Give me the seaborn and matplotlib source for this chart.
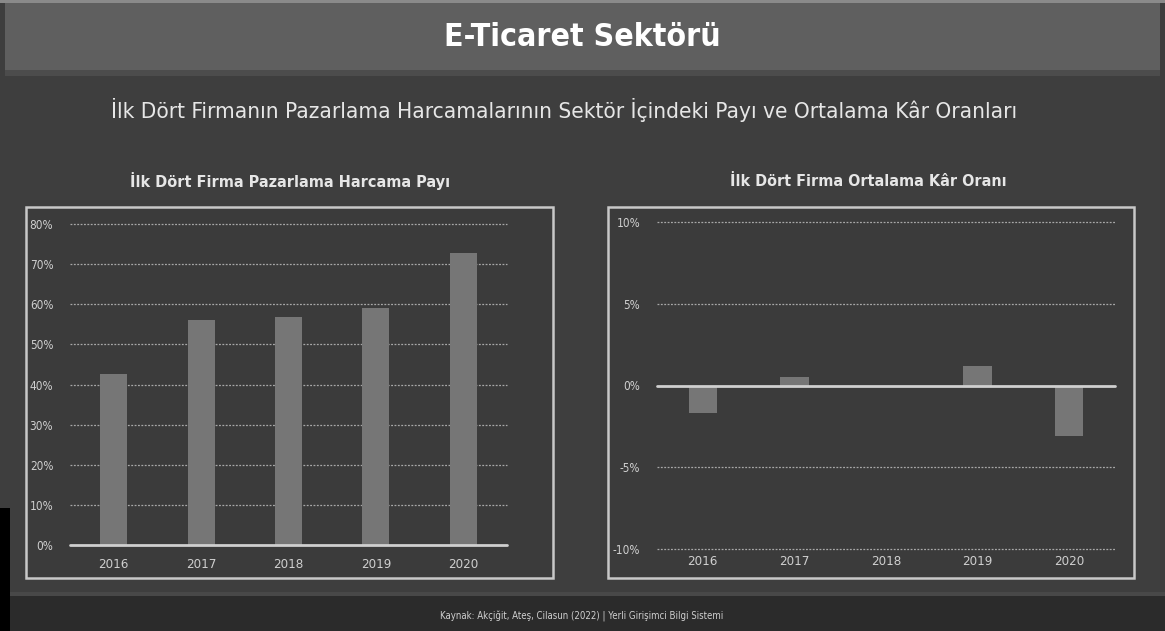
import matplotlib
matplotlib.use("Agg")
import matplotlib.pyplot as plt
import matplotlib.patches as mpatches
import seaborn as sns
import pandas as pd

# data
years = ["2016", "2017", "2018", "2019", "2020"]
pazarlama_payi = [42.6, 56.1, 56.9, 59.1, 72.7]   # % share of marketing spend
kar_orani = [-1.7, 0.5, 0.0, 1.2, -3.1]           # % average profit rate
left_ticks = [0, 10, 20, 30, 40, 50, 60, 70, 80]
right_ticks = [-10, -5, 0, 5, 10]

main_title = "E-Ticaret Sektörü"
sub_title = "İlk Dört Firmanın Pazarlama Harcamalarının Sektör İçindeki Payı ve Ortalama Kâr Oranları"
left_title = "İlk Dört Firma Pazarlama Harcama Payı"
right_title = "İlk Dört Firma Ortalama Kâr Oranı"
source = "Kaynak: Akçiğit, Ateş, Cilasun (2022) | Yerli Girişimci Bilgi Sistemi"

W, H = 1165, 631
BG = "#3e3e3e"
BAR = "#767676"
TXT = "#e6e6e6"
TICK = "#cfcfcf"

sns.set_theme(style="dark")
plt.rcParams["font.family"] = ["DejaVu Sans"]
plt.rcParams["font.stretch"] = "condensed"

fig = plt.figure(figsize=(W / 100, H / 100), dpi=100, facecolor=BG)
renderer = fig.canvas.get_renderer()


def box(x0, y0, x1, y1):  # pixel box (top-left origin) -> figure fractions
    return [x0 / W, 1 - y1 / H, (x1 - x0) / W, (y1 - y0) / H]


def rect(x0, y0, x1, y1, **kw):
    l, b, w, h = box(x0, y0, x1, y1)
    fig.patches.append(mpatches.Rectangle((l, b), w, h, transform=fig.transFigure,
                                          zorder=-1, **kw))


def fit_text(x, y, s, width_px, size, **kw):  # shrink/grow text to the reference width
    t = fig.text(x / W, 1 - y / H, s, ha="center", va="center", fontsize=size,
                 fontstretch="condensed", **kw)
    w = t.get_window_extent(renderer).width
    t.set_fontsize(size * width_px / w)
    return t


# header band, footer band
rect(0, 0, W, 3, facecolor="#8a8a8a", edgecolor="none")
rect(5, 3, 1160, 70, facecolor="#5f5f5f", edgecolor="none")
rect(5, 70, 1160, 76, facecolor="#4c4c4c", edgecolor="none")
rect(0, 594, W, H, facecolor="#2b2b2b", edgecolor="none")
rect(0, 592, W, 596, facecolor="#484848", edgecolor="none")
rect(0, 508, 10, H, facecolor="black", edgecolor="none")

# panel frames
rect(26, 207, 553, 578, facecolor="#3b3b3b", edgecolor="#c8c8c8", linewidth=1.8)
rect(608, 207, 1134, 578, facecolor="#3b3b3b", edgecolor="#c8c8c8", linewidth=1.8)

fit_text(582, 38, main_title, 277, 30, fontweight="bold", color="white")
fit_text(564, 110, sub_title, 902, 20, color=TXT)
fit_text(290, 181, left_title, 322, 14, fontweight="bold", color=TXT)
fit_text(868, 181, right_title, 276, 14, fontweight="bold", color=TXT)
fit_text(582, 617, source, 285, 7, color=TICK)


def style(ax, ticks, ylim):
    ax.set_facecolor("none")
    ax.set_ylim(*ylim)
    ax.set_xlim(-0.5, 4.5)
    ax.set_yticks(ticks)
    ax.set_yticklabels([f"{t}%" for t in ticks])
    ax.set_xlabel("")
    ax.set_ylabel("")
    for s in ax.spines.values():
        s.set_visible(False)
    ax.grid(False)
    for t in ticks:
        if t != 0:
            ax.axhline(t, color="#a8a8a8", lw=0.9, ls=(0, (1.5, 1.2)), zorder=0,
                       clip_on=False)
    ax.axhline(0, color="#cfcfcf", lw=2, zorder=3, clip_on=False)
    ax.tick_params(axis="y", length=0, pad=12, labelsize=8.5, labelcolor=TICK)
    ax.tick_params(axis="x", length=0, pad=9, labelsize=9.5, labelcolor=TICK)


ax1 = fig.add_axes(box(70, 224, 507, 545))
df1 = pd.DataFrame({"yil": years, "pay": pazarlama_payi})
sns.barplot(data=df1, x="yil", y="pay", color=BAR, width=0.31, saturation=1,
            linewidth=0, edgecolor="none", ax=ax1, zorder=2)
style(ax1, left_ticks, (0, 80))

ax2 = fig.add_axes(box(657, 222, 1115, 549))
df2 = pd.DataFrame({"yil": years, "kar": kar_orani})
sns.barplot(data=df2, x="yil", y="kar", color=BAR, width=0.31, saturation=1,
            linewidth=0, edgecolor="none", ax=ax2, zorder=2)
style(ax2, right_ticks, (-10, 10))
ax2.tick_params(axis="x", pad=4)

fig.savefig("out.png", dpi=100, facecolor=BG)
